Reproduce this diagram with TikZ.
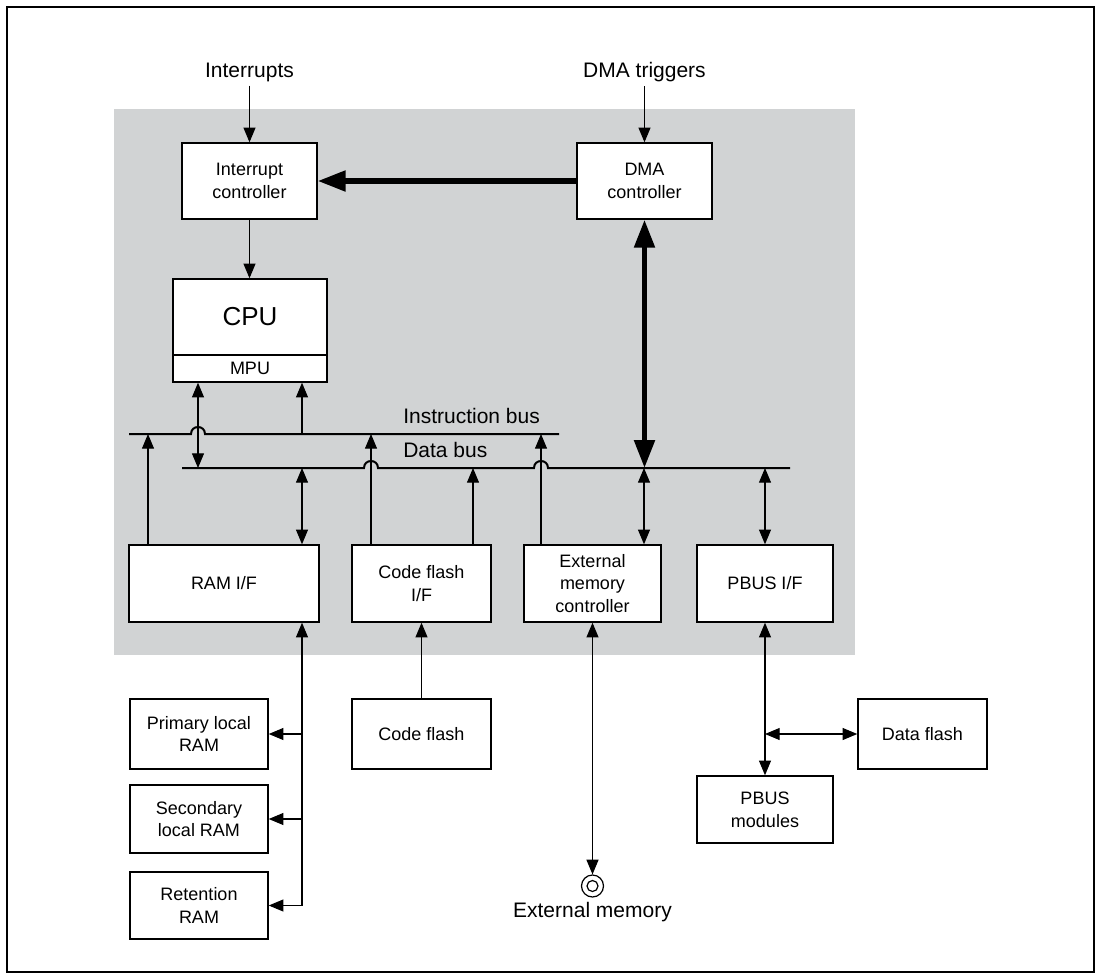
\documentclass[tikz,border=0pt]{standalone}
\usepackage{fontspec}
\setmainfont{Liberation Sans}
\usetikzlibrary{arrows.meta}
\definecolor{bggray}{RGB}{209,211,212}
\begin{document}
\begin{tikzpicture}[x=0.75pt,y=-0.75pt,
  sz/.style 2 args={minimum width=#1*0.75pt,minimum height=#2*0.75pt},
  box/.style={draw,fill=white,line width=1.1pt,inner sep=0pt,align=center,font=\fontsize{13.5}{17}\selectfont},
  conn/.style={line width=0.8pt},
  arr/.style={conn,-{Triangle[length=11pt,width=9pt]}},
  darr/.style={conn,{Triangle[length=11pt,width=9pt]}-{Triangle[length=11pt,width=9pt]}},
  thickarr/.style={line width=4pt,-{Triangle[length=21pt,width=15pt]}},
  thickdarr/.style={line width=4pt,{Triangle[length=21pt,width=15pt]}-{Triangle[length=21pt,width=15pt]}},
  bus/.style={line width=1.5pt},
  lbl/.style={font=\fontsize{15.75}{19}\selectfont,inner sep=0pt},
  sym/.style={circle,draw,line width=0.9pt,inner sep=0pt}
]
\useasboundingbox (0,0) rectangle (1101,979);
\fill[bggray] (114,109) rectangle (855,655);
\draw[line width=1.5pt] (7,7) rectangle (1094,972);

% top blocks
\node[box,sz={135}{76}] (intc) at (249.5,181) {Interrupt\\controller};
\node[box,sz={135}{76}] (dmac) at (644.5,181) {DMA\\controller};
\node[lbl] (lint) at (249.5,72) {Interrupts};
\node[lbl] (ldma) at (644.5,72) {DMA triggers};
\draw[arr] ([yshift=-3pt]lint.south) -- (intc.north);
\draw[arr] ([yshift=-3pt]ldma.south) -- (dmac.north);
\draw[thickarr] (dmac.west) -- (intc.east);

% CPU
\node[box,sz={154}{103}] (cpu) at (250,330.5) {};
\coordinate (mpuy) at (0,355);
\draw[line width=1.1pt] (cpu.west |- mpuy) -- (cpu.east |- mpuy);
\node[font=\fontsize{19.5}{22}\selectfont,inner sep=0pt] (cputxt) at (250,317) {CPU};
\node[font=\fontsize{13.5}{16}\selectfont,inner sep=0pt] (mputxt) at (250,368) {MPU};
\draw[arr] (intc.south) -- (intc.south |- cpu.north);

% lower blocks
\node[box,sz={190}{77}] (ramif) at (224,583.5) {RAM I/F};
\node[box,sz={139}{77}] (cfif) at (421.5,583.5) {Code flash\\I/F};
\node[box,sz={137}{77}] (emc) at (592.5,583.5) {External\\memory\\controller};
\node[box,sz={136}{77}] (pbif) at (765,583.5) {PBUS I/F};

% buses
\coordinate (ibL) at (129,434);
\coordinate (ibR) at (559,434);
\coordinate (dbL) at (182,468);
\coordinate (dbR) at (790,468);
\draw[bus] (ibL) -- (191,434) .. controls (191,424.7) and (205,424.7) .. (205,434) -- (ibR);
\draw[bus] (dbL) -- (364,468) .. controls (364,458.7) and (378,458.7) .. (378,468)
  -- (534,468) .. controls (534,458.7) and (548,458.7) .. (548,468) -- (dbR);
\node[lbl,anchor=west] (iblbl) at (403,416) {Instruction bus};
\node[lbl,anchor=west] (dblbl) at (403,450) {Data bus};

% bus connections
\coordinate (db198) at (198,468);
\coordinate (ib302) at (302,434);
\coordinate (ib148) at (148,434);
\coordinate (db302) at (302,468);
\coordinate (ib371) at (371,434);
\coordinate (db473) at (473,468);
\coordinate (ib541) at (541,434);
\coordinate (db644) at (644,468);
\coordinate (db765) at (765,468);
\draw[darr] (cpu.south -| db198) -- (db198);
\draw[arr] (ib302) -- (cpu.south -| ib302);
\draw[arr] (ramif.north -| ib148) -- (ib148);
\draw[darr] (ramif.north -| db302) -- (db302);
\draw[arr] (cfif.north -| ib371) -- (ib371);
\draw[arr] (cfif.north -| db473) -- (db473);
\draw[arr] (emc.north -| ib541) -- (ib541);
\draw[darr] (emc.north -| db644) -- (db644);
\draw[darr] (pbif.north) -- (db765);
\draw[thickdarr] (dmac.south) -- (dmac.south |- db644);

% outside blocks
\node[box,sz={138}{70}] (pram) at (199,734) {Primary local\\RAM};
\node[box,sz={138}{68}] (sram) at (199,819) {Secondary\\local RAM};
\node[box,sz={138}{67}] (rram) at (199,905.5) {Retention\\RAM};
\node[box,sz={139}{70}] (cflash) at (421.5,734) {Code flash};
\node[box,sz={129}{70}] (dflash) at (922.5,734) {Data flash};
\node[box,sz={136}{67}] (pbmod) at (765,809.5) {PBUS\\modules};

\draw[arr] (rram.east -| db302) -- (ramif.south -| db302);
\draw[arr] (pram.east -| db302) -- (pram.east);
\draw[arr] (sram.east -| db302) -- (sram.east);
\draw[arr] (rram.east -| db302) -- (rram.east);
\draw[arr] (cflash.north) -- (cfif.south);

\node[sym,minimum size=22*0.75pt] (emsym) at (592.5,886) {};
\node[sym,minimum size=11*0.75pt] (emsymin) at (emsym) {};
\node[lbl,anchor=north] (emlbl) at ([yshift=-3pt]emsym.south) {External memory};
\draw[darr] (emc.south) -- (emsym.north);

\draw[darr] (pbif.south) -- (pbmod.north);
\draw[darr] (dflash.west -| pbif.south) -- (dflash.west);
\end{tikzpicture}
\end{document}
